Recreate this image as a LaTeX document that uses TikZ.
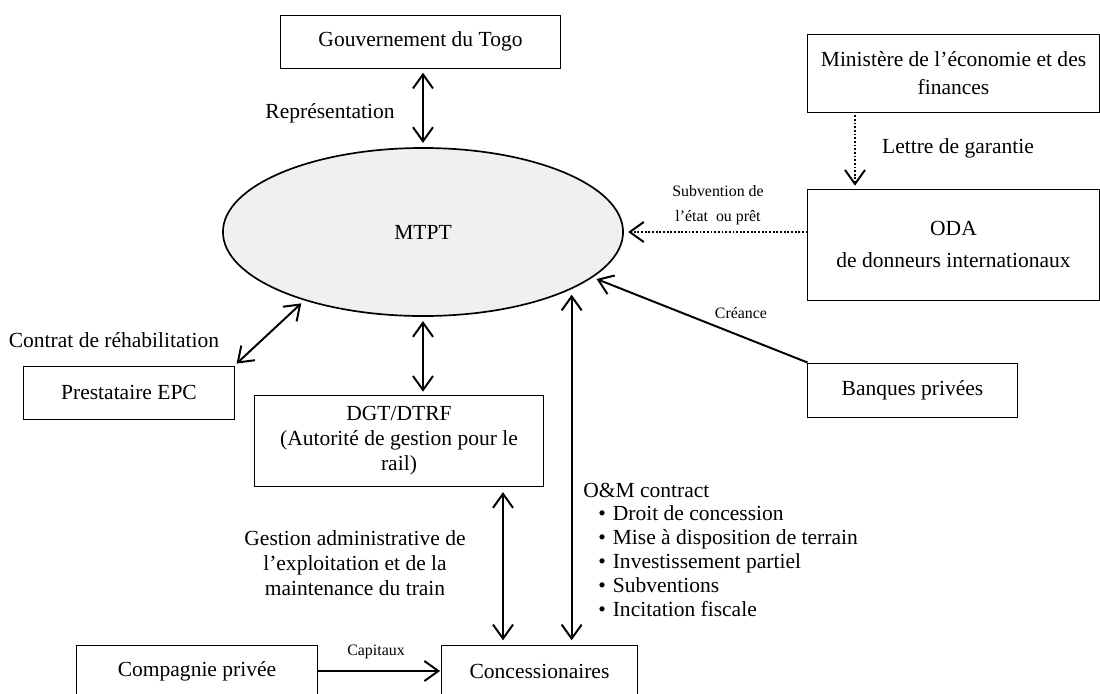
\documentclass[tikz,border=0pt]{standalone}
\usepackage{fontspec}
\setmainfont{Liberation Serif}
\usetikzlibrary{arrows.meta, positioning, shapes.geometric}

\newcommand{\grand}{\fontsize{15.3}{18}\selectfont}
\newcommand{\liste}{\fontsize{15.3}{17.2}\selectfont}
\newcommand{\petit}{\fontsize{11.3}{14.5}\selectfont}

\tikzset{
  bloc/.style={draw, line width=0.7pt, align=center, inner sep=0pt, font=\grand},
  etiq/.style={align=center, inner sep=0pt, font=\grand},
  petiq/.style={align=center, inner sep=0pt, font=\petit},
  fleche/.style={line width=1.4pt, -{Straight Barb[length=3.5mm, width=5mm]}},
  dfleche/.style={line width=1.4pt, {Straight Barb[length=3.5mm, width=5mm]}-{Straight Barb[length=3.5mm, width=5mm]}},
  pointille/.style={fleche, dash pattern=on 1.3pt off 1.3pt}
}

\begin{document}
\begin{tikzpicture}[x=0.025cm, y=-0.025cm]
  \useasboundingbox (0,0) rectangle (1100,693);

  % acteurs
  \node[bloc, minimum width=6.975cm, minimum height=1.325cm] (gouv) at (420.5,41.5) {Gouvernement du Togo};
  \node[bloc, minimum width=7.275cm, minimum height=1.95cm] (minfin) at (953.5,73) {Ministère de l’économie et des\\[2pt]finances};
  \node[bloc, minimum width=7.275cm, minimum height=2.775cm] (oda) at (953.5,244.5) {ODA\\[5pt]de donneurs internationaux};
  \node[bloc, minimum width=5.225cm, minimum height=1.35cm] (banques) at (912.5,390) {Banques privées};
  \node[bloc, minimum width=5.25cm, minimum height=1.325cm] (epc) at (129,392.5) {Prestataire EPC};
  \node[bloc, minimum width=7.2cm, minimum height=2.275cm] (dgt) at (399,440.5) {DGT/DTRF\\(Autorité de gestion pour le\\rail)};
  \node[bloc, minimum width=4.875cm, minimum height=1.3cm] (concess) at (539.5,671) {Concessionaires};
  \node[bloc, minimum width=6cm, minimum height=1.3cm] (compagnie) at (197,671) {Compagnie privée};
  \node[ellipse, draw, line width=1.2pt, fill=black!6, minimum width=10cm, minimum height=4.2cm, font=\grand] (mtpt) at (423,232) {MTPT};

  % textes
  \node[etiq] (repr) at (330,113) {Représentation};
  \node[etiq] (lettre) at (958,148) {Lettre de garantie};
  \node[petiq] (subv) at (718,205) {Subvention de\\[3pt]l’état\ \ ou prêt};
  \node[etiq] (contrat) at (114,340) {Contrat de réhabilitation};
  \node[petiq] (creance) at (741,313) {Créance};
  \node[petiq] (capitaux) at (376,652) {Capitaux};
  \node[etiq] (gestion) at (355,563) {Gestion administrative de\\l’exploitation et de la\\maintenance du train};
  \node[etiq, anchor=west] (om) at (583,490) {O\&M contract};
  \node[etiq, anchor=north west, align=left, font=\liste] (omliste) at (598,505)
    {\textbullet\hspace{5pt}Droit de concession\\
     \textbullet\hspace{5pt}Mise à disposition de terrain\\
     \textbullet\hspace{5pt}Investissement partiel\\
     \textbullet\hspace{5pt}Subventions\\
     \textbullet\hspace{5pt}Incitation fiscale};

  \coordinate (xlettre) at (855,0);
  \coordinate (xgestion) at (503,0);

  % liens
  \draw[dfleche, shorten <=3pt, shorten >=3pt] (gouv.south -| mtpt.north) -- (mtpt.north);
  \draw[pointille, shorten <=2pt, shorten >=2pt] (minfin.south -| xlettre) -- (oda.north -| xlettre);
  \draw[pointille, shorten >=3pt] (oda.west |- mtpt.east) -- (mtpt.east);
  \draw[fleche, shorten >=3pt] (banques.north west) -- (mtpt.-15);
  \draw[dfleche, shorten <=2pt, shorten >=3pt] (epc.north east) -- (mtpt.-150);
  \draw[dfleche, shorten <=3pt, shorten >=2pt] (mtpt.south) -- (mtpt.south |- dgt.north);
  \draw[dfleche, shorten <=4pt, shorten >=3pt] (mtpt.-21) -- (mtpt.-21 |- concess.north);
  \draw[dfleche, shorten <=4pt, shorten >=3pt] (dgt.south -| xgestion) -- (concess.north -| xgestion);
  \draw[fleche, shorten >=1pt] (compagnie.east) -- (concess.west);
\end{tikzpicture}
\end{document}
